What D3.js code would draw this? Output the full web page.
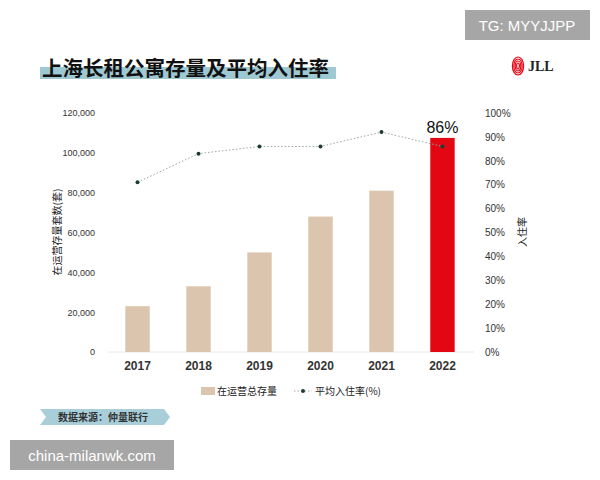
<!DOCTYPE html>
<html><head><meta charset="utf-8">
<script src="https://cdn.jsdelivr.net/npm/d3@7"></script>
<style>body{margin:0;background:#fff}</style>
</head><body>
<svg id="chart" width="600" height="480"></svg>
<script>
var years = ['2017', '2018', '2019', '2020', '2021', '2022'];
var stock = [23000, 33000, 50000, 68000, 81000, 107500];
var occupancy = [71, 83, 86, 86, 92, 86];
var leftTicks = [0, 20000, 40000, 60000, 80000, 100000, 120000];
var rightTicks = [0, 10, 20, 30, 40, 50, 60, 70, 80, 90, 100];

var font = "'Noto Sans CJK SC', 'Liberation Sans', sans-serif";
var svg = d3.select('#chart').style('font-family', font);

// 标题
svg.append('rect').attr('x', 40).attr('y', 67).attr('width', 296).attr('height', 12).attr('fill', '#9ec9d3');
svg.append('text').attr('x', 42).attr('y', 76).attr('font-size', 20.5).attr('font-weight', 'bold')
   .attr('fill', '#111').text('上海长租公寓存量及平均入住率');

// 水印
svg.append('rect').attr('x', 465).attr('y', 10).attr('width', 125).attr('height', 30).attr('fill', '#a6a6a6');
svg.append('text').attr('x', 527).attr('y', 31).attr('text-anchor', 'middle').attr('font-size', 15)
   .attr('fill', '#fff').attr('font-family', 'Liberation Sans').text('TG: MYYJJPP');
svg.append('rect').attr('x', 10).attr('y', 440).attr('width', 164).attr('height', 30).attr('fill', '#a6a6a6');
svg.append('text').attr('x', 92).attr('y', 461).attr('text-anchor', 'middle').attr('font-size', 15)
   .attr('fill', '#fff').attr('font-family', 'Liberation Sans').text('china-milanwk.com');

// JLL logo
var logo = svg.append('g').attr('transform', 'translate(518,66)');
[8, 6, 4, 2].forEach(function (r) {
   logo.append('ellipse').attr('rx', r * 0.7).attr('ry', r + 1).attr('fill', 'none')
      .attr('stroke', '#e30613').attr('stroke-width', 1.2);
});
svg.append('text').attr('x', 528).attr('y', 71).attr('font-size', 14).attr('font-weight', 'bold')
   .attr('font-family', 'Liberation Serif').attr('fill', '#222').text('JLL');

var x = d3.scaleBand().domain(years).range([106, 474]).paddingInner(0.6).paddingOuter(0.317);
var y = d3.scaleLinear().domain([0, 120000]).range([352, 113]);
var y2 = d3.scaleLinear().domain([0, 100]).range([352, 113]);

svg.append('line').attr('x1', 108).attr('x2', 474).attr('y1', 352).attr('y2', 352)
   .attr('stroke', '#e8e8e8');

svg.selectAll('.bar').data(years).enter().append('rect')
   .attr('x', function (d) { return x(d); })
   .attr('width', x.bandwidth())
   .attr('y', function (d, i) { return y(stock[i]); })
   .attr('height', function (d, i) { return y(0) - y(stock[i]); })
   .attr('fill', function (d, i) { return i === years.length - 1 ? '#e30613' : '#dcc5ae'; });

var line = d3.line()
   .x(function (d, i) { return x(years[i]) + x.bandwidth() / 2; })
   .y(function (d) { return y2(d); });
svg.append('path').datum(occupancy).attr('d', line).attr('fill', 'none')
   .attr('stroke', '#9aa8a4').attr('stroke-width', 1).attr('stroke-dasharray', '1.5,2');
svg.selectAll('.pt').data(occupancy).enter().append('circle')
   .attr('cx', function (d, i) { return x(years[i]) + x.bandwidth() / 2; })
   .attr('cy', function (d) { return y2(d); })
   .attr('r', 2).attr('fill', '#1f3b35');

svg.append('text').attr('x', x('2022') + x.bandwidth() / 2).attr('y', y(stock[5]) - 5)
   .attr('text-anchor', 'middle').attr('font-size', 16).attr('font-family', 'Liberation Sans')
   .attr('fill', '#111').text(occupancy[5] + '%');

var axL = svg.append('g').attr('transform', 'translate(98,0)')
   .call(d3.axisLeft(y).tickValues(leftTicks).tickSize(0).tickFormat(d3.format(',')));
var axR = svg.append('g').attr('transform', 'translate(482,0)')
   .call(d3.axisRight(y2).tickValues(rightTicks).tickSize(0).tickFormat(function (d) { return d + '%'; }));
var axB = svg.append('g').attr('transform', 'translate(0,358)')
   .call(d3.axisBottom(x).tickSize(0));
[axL, axR, axB].forEach(function (a) { a.select('.domain').remove(); });
axL.selectAll('text').attr('font-size', 9).attr('fill', '#333').attr('font-family', 'Liberation Sans');
axR.selectAll('text').attr('font-size', 10).attr('fill', '#333').attr('font-family', 'Liberation Sans');
axB.selectAll('text').attr('font-size', 12).attr('font-weight', 'bold').attr('fill', '#333')
   .attr('font-family', 'Liberation Sans');

svg.append('text').attr('transform', 'translate(61,232) rotate(-90)').attr('text-anchor', 'middle')
   .attr('font-size', 10).attr('fill', '#222').text('在运营存量套数(套)');
svg.append('text').attr('transform', 'translate(526,232) rotate(-90)').attr('text-anchor', 'middle')
   .attr('font-size', 10).attr('fill', '#222').text('入住率');

// 图例
svg.append('rect').attr('x', 201).attr('y', 387).attr('width', 14).attr('height', 8).attr('fill', '#dcc5ae');
svg.append('text').attr('x', 217).attr('y', 395).attr('font-size', 10).attr('fill', '#222').text('在运营总存量');
svg.append('line').attr('x1', 294).attr('x2', 312).attr('y1', 391).attr('y2', 391)
   .attr('stroke', '#9aa8a4').attr('stroke-dasharray', '1.5,2');
svg.append('circle').attr('cx', 303).attr('cy', 391).attr('r', 2).attr('fill', '#1f3b35');
svg.append('text').attr('x', 315).attr('y', 395).attr('font-size', 10).attr('fill', '#222').text('平均入住率(%)');

// 数据来源
svg.append('path').attr('d', 'M40,409 L164,409 L170,417 L164,425 L40,425 L46,417 Z').attr('fill', '#a8cfd9');
svg.append('text').attr('x', 58).attr('y', 421).attr('font-size', 10).attr('font-weight', 'bold')
   .attr('fill', '#333').text('数据来源：仲量联行');
</script>
</body></html>
